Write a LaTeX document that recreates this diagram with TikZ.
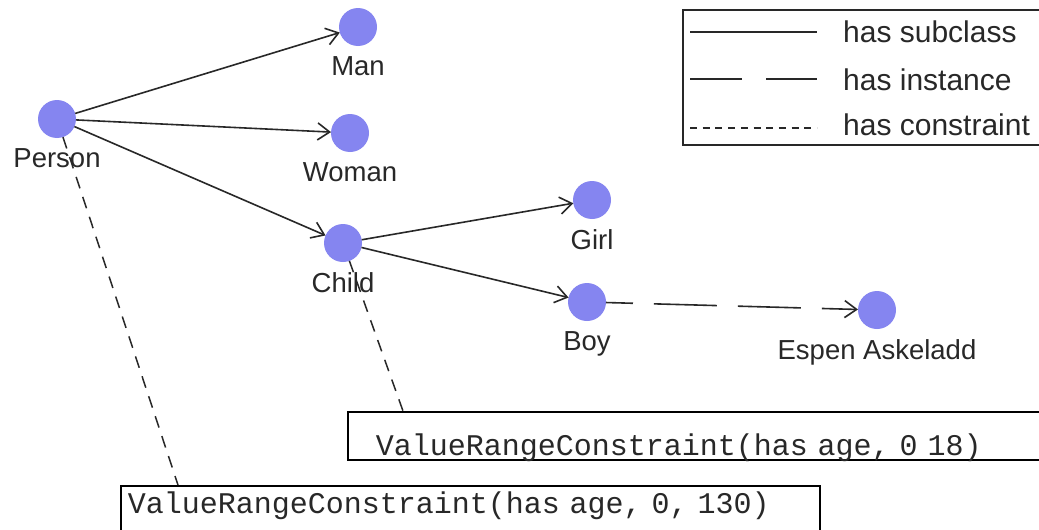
\documentclass[tikz,border=0pt]{standalone}
\usepackage{fontspec}
\setmainfont{Liberation Sans}
\setmonofont{Liberation Mono}
\usetikzlibrary{arrows.meta}

\definecolor{conceptblue}{RGB}{133,133,240}
\definecolor{inkgray}{RGB}{40,40,40}

\tikzset{
	concept/.style={circle, fill=conceptblue, minimum size=38pt, inner sep=0pt, outer sep=0pt},
	every label/.style={font=\fontsize{27.5}{30}\selectfont, text=inkgray, label distance=7pt},
	subline/.style={line width=1.6pt, draw=inkgray},
	subclass/.style={subline, -{Straight Barb[length=12pt,width=17pt]}},
	instance/.style={subclass, dash pattern=on 63pt off 21pt, dash phase=36pt},
	constraint/.style={line width=1.5pt, draw=inkgray, dash pattern=on 12pt off 9pt},
	cbox/.style={draw, line width=1.5pt, anchor=north west, inner ysep=0pt, align=left, text=inkgray, font=\fontsize{30}{30}\ttfamily},
	legend/.style={anchor=west, inner sep=0pt, text=inkgray, font=\fontsize{30}{32}\selectfont}
}

\begin{document}
\begin{tikzpicture}[x=1pt, y=-1pt]
			\useasboundingbox[fill=white] (0,0) rectangle (1039,530);
			
			% concepts
			\node (person) at (57, 119) [concept, label=below:Person] {};
			\node (man) at (358, 27) [concept, label=below:Man] {};
			\node (woman) at (350, 133) [concept, label=below:Woman] {};
			\node (child) at (343, 243) [concept, label=below:Child] {};
			\node (girl) at (592, 200) [concept, label=below:Girl] {};
			\node (boy) at (587, 302) [concept, label=below:Boy] {};
			\node (espen) at (877, 310) [concept, label=below:Espen Askeladd] {};
			
			% constraints
			\node (agechild) at (347, 411) [cbox, inner xsep=28pt, text width=657pt, text height=44pt, text depth=4pt] {ValueRangeConstraint(has age, 0 18)};
			\node (ageall) at (120, 485) [cbox, inner xsep=7pt, text width=685pt, text height=28pt, text depth=30pt] {ValueRangeConstraint(has age, 0, 130)};
			
			\draw[subclass] (person) -- (man);
			\draw[subclass] (person) -- (woman);
			\draw[subclass] (person) -- (child);
			\draw[subclass] (child) -- (girl);
			\draw[subclass] (child) -- (boy);
			\draw[instance] (boy) -- (espen);
			\draw[constraint] (person) -- ([xshift=58pt]ageall.north west);
			\draw[constraint] (child) -- ([xshift=56pt]agechild.north west);
			
			% legend
			\draw[line width=1.8pt, draw=inkgray] (683,10) rectangle (1060,145);
			\node (lsub) at (843, 32) [legend] {has subclass};
			\node (linst) at (843, 80) [legend] {has instance};
			\node (lcons) at (843, 125) [legend] {has constraint};
			\draw[subline] (690, 32) -- (817, 32);
			\draw[subline, dash pattern=on 52pt off 24pt] (690, 79) -- (817, 79);
			\draw[constraint, dash pattern=on 7pt off 5.7pt] (690, 128) -- (817, 128);
		\end{tikzpicture}
\end{document}
